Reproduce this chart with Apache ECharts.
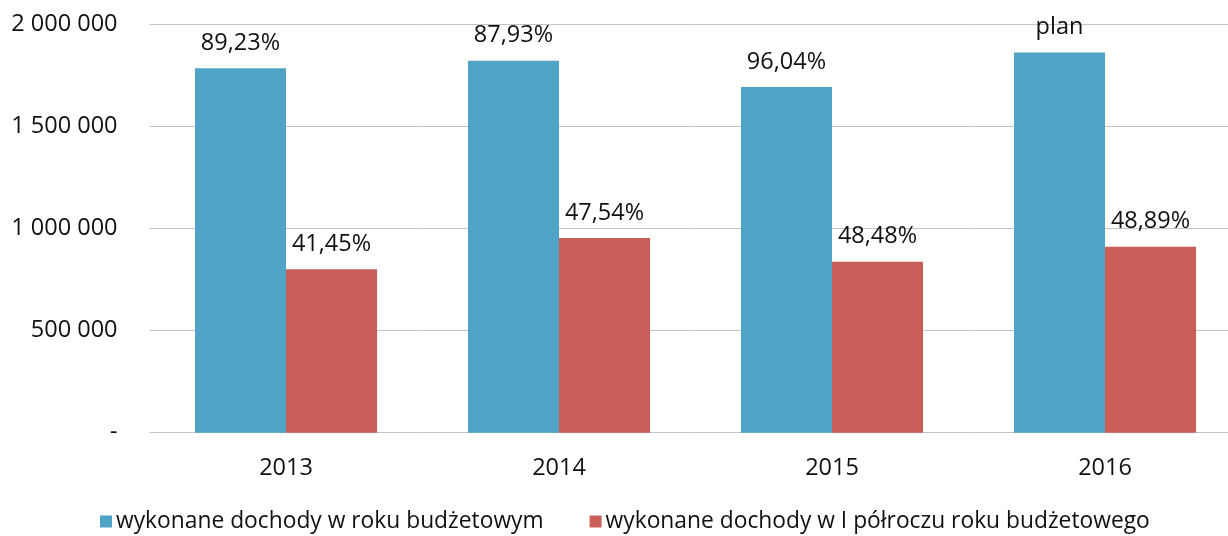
<!DOCTYPE html>
<html>
<head>
<meta charset="utf-8">
<script src="https://cdn.jsdelivr.net/npm/echarts@6/dist/echarts.min.js"></script>
<style>
html,body{margin:0;padding:0;background:#fff;overflow:hidden;}
#chart{width:1244px;height:536px;}
</style>
</head>
<body>
<div id="chart"></div>
<script>
var categories = ['2013', '2014', '2015', '2016'];
var seriesNames = ['wykonane dochody w roku budżetowym', 'wykonane dochody w I półroczu roku budżetowego'];
var yearValues = [1783000, 1820000, 1692000, 1861000];
var halfYearValues = [800000, 953000, 837000, 910000];
var yearLabels = ['89,23%', '87,93%', '96,04%', 'plan'];
var halfYearLabels = ['41,45%', '47,54%', '48,48%', '48,89%'];
var yTicks = [0, 500000, 1000000, 1500000, 2000000];

var FONT = '"Open Sans", sans-serif';
var TXT = '#111111';
var FS = 23.5;

function fmtY(v) {
  if (v === 0) return '-';
  return String(v).replace(/\B(?=(\d{3})+(?!\d))/g, ' ');
}

var chart = echarts.init(document.getElementById('chart'));
chart.setOption({
  animation: false,
  backgroundColor: '#ffffff',
  textStyle: { fontFamily: FONT },
  grid: { left: 149.5, top: 24, width: 1092, height: 408.7, containLabel: false },
  legend: {
    left: 95,
    top: 505,
    itemWidth: 12,
    itemHeight: 12,
    itemGap: 46,
    icon: 'rect',
    textStyle: { fontFamily: FONT, fontSize: 22.8, color: TXT, padding: [0, 0, 0, -1] },
    data: seriesNames
  },
  xAxis: {
    type: 'category',
    data: categories,
    axisLine: { show: false },
    axisTick: { show: false },
    axisLabel: { margin: 24, fontFamily: FONT, fontSize: FS, color: TXT }
  },
  yAxis: {
    type: 'value',
    min: yTicks[0],
    max: yTicks[yTicks.length - 1],
    interval: yTicks[1] - yTicks[0],
    axisLine: { show: false },
    axisTick: { show: false },
    splitLine: { lineStyle: { color: '#c4c4c4', width: 1 } },
    axisLabel: { margin: 32, fontFamily: FONT, fontSize: FS, color: TXT, formatter: fmtY }
  },
  series: [
    {
      name: seriesNames[0],
      type: 'bar',
      data: yearValues,
      barGap: '0%',
      barCategoryGap: '33.3%',
      itemStyle: { color: '#4fa3c5' },
      label: {
        show: true, position: 'top', distance: 13,
        fontFamily: FONT, fontSize: FS, color: TXT,
        formatter: function (p) { return yearLabels[p.dataIndex]; }
      }
    },
    {
      name: seriesNames[1],
      type: 'bar',
      data: halfYearValues,
      barGap: '0%',
      barCategoryGap: '33.3%',
      itemStyle: { color: '#c95d57' },
      label: {
        show: true, position: 'top', distance: 13,
        fontFamily: FONT, fontSize: FS, color: TXT,
        formatter: function (p) { return halfYearLabels[p.dataIndex]; }
      }
    }
  ]
});
</script>
</body>
</html>
